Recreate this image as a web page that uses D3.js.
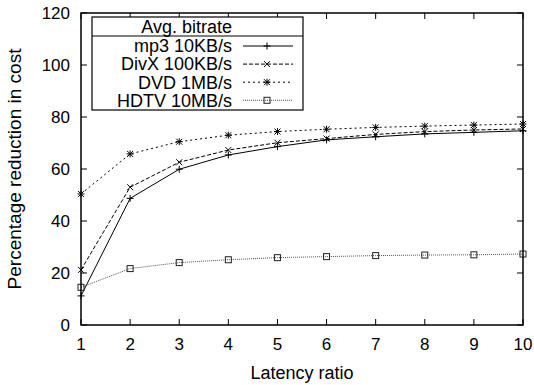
<!DOCTYPE html>
<html>
<head>
<meta charset="utf-8">
<script src="https://cdn.jsdelivr.net/npm/d3@7/dist/d3.min.js"></script>
<style>
  html, body { margin: 0; padding: 0; background: #fff; }
  svg { display: block; font-family: "Liberation Sans", Arial, Helvetica, sans-serif; }
</style>
</head>
<body>
<svg id="chart" width="534" height="385"></svg>
<script>
// Latency ratio on the x axis
const latency = [1, 2, 3, 4, 5, 6, 7, 8, 9, 10];

// Percentage reduction in cost per average bitrate
const mp3 = [11.2, 48.7, 59.9, 65.4, 68.6, 71.2, 72.4, 73.5, 74.1, 74.7];
const divx = [21.2, 53.0, 62.6, 67.3, 70.1, 71.7, 73.3, 74.4, 75.0, 75.4];
const dvd = [50.4, 65.8, 70.5, 73.0, 74.4, 75.3, 76.0, 76.5, 76.9, 77.3];
const hdtv = [14.5, 21.7, 24.0, 25.1, 25.9, 26.3, 26.7, 26.9, 27.0, 27.3];

const seriesNames = ["mp3 10KB/s", "DivX 100KB/s", "DVD 1MB/s", "HDTV 10MB/s"];
const legendTitle = "Avg. bitrate";
const xTicks = [1, 2, 3, 4, 5, 6, 7, 8, 9, 10];
const yTicks = [0, 20, 40, 60, 80, 100, 120];
const xLabel = "Latency ratio";
const yLabel = "Percentage reduction in cost";

const series = [
  { name: seriesNames[0], values: mp3,  dash: null,  color: "#000", marker: "plus" },
  { name: seriesNames[1], values: divx, dash: "4,2", color: "#000", marker: "cross" },
  { name: seriesNames[2], values: dvd,  dash: "2,3", color: "#000", marker: "star" },
  { name: seriesNames[3], values: hdtv, dash: "1,1", color: "#555", marker: "square" }
];

const svg = d3.select("#chart");
const m = { left: 81, right: 11, top: 13, bottom: 60 };
const W = 534, H = 385;

const x = d3.scaleLinear().domain([1, 10]).range([m.left, W - m.right]);
const y = d3.scaleLinear().domain([0, 120]).range([H - m.bottom, m.top]);

const tickLen = 6;

// tick marks on all four sides, pointing inward
const ax = svg.append("g").attr("stroke", "#000").attr("stroke-width", 1);
xTicks.forEach(t => {
  ax.append("line").attr("x1", x(t)).attr("x2", x(t)).attr("y1", y(0)).attr("y2", y(0) - tickLen);
  ax.append("line").attr("x1", x(t)).attr("x2", x(t)).attr("y1", y(120)).attr("y2", y(120) + tickLen);
});
yTicks.forEach(t => {
  ax.append("line").attr("x1", x(1)).attr("x2", x(1) + tickLen).attr("y1", y(t)).attr("y2", y(t));
  ax.append("line").attr("x1", x(10)).attr("x2", x(10) - tickLen).attr("y1", y(t)).attr("y2", y(t));
});

// tick labels
svg.append("g").selectAll("text").data(xTicks).join("text")
  .attr("x", d => x(d)).attr("y", y(0) + 25)
  .attr("text-anchor", "middle").attr("font-size", 17).text(d => d);
svg.append("g").selectAll("text").data(yTicks).join("text")
  .attr("x", m.left - 11).attr("y", d => y(d) + 6)
  .attr("text-anchor", "end").attr("font-size", 17).text(d => d);

// axis titles
svg.append("text").attr("x", (x(1) + x(10)) / 2).attr("y", 379)
  .attr("text-anchor", "middle").attr("font-size", 18).text(xLabel);
svg.append("text").attr("transform", `translate(21,${(y(0) + y(120)) / 2}) rotate(-90)`)
  .attr("text-anchor", "middle").attr("font-size", 19).text(yLabel);

// marker drawing
function drawMarker(g, cx, cy, type, color) {
  const s = 3.5;
  const mk = g.append("g").attr("stroke", color).attr("stroke-width", 1).attr("fill", "none");
  if (type === "plus" || type === "star") {
    mk.append("line").attr("x1", cx - s).attr("x2", cx + s).attr("y1", cy).attr("y2", cy);
    mk.append("line").attr("x1", cx).attr("x2", cx).attr("y1", cy - s).attr("y2", cy + s);
  }
  if (type === "cross" || type === "star") {
    const k = 3;
    mk.append("line").attr("x1", cx - k).attr("x2", cx + k).attr("y1", cy - k).attr("y2", cy + k);
    mk.append("line").attr("x1", cx - k).attr("x2", cx + k).attr("y1", cy + k).attr("y2", cy - k);
  }
  if (type === "square") {
    mk.append("rect").attr("x", cx - 3).attr("y", cy - 3).attr("width", 6).attr("height", 6)
      .attr("stroke", "#222");
  }
}

// series lines and markers
const line = d3.line().x((d, i) => x(latency[i])).y(d => y(d));
const plot = svg.append("g");
series.forEach(s => {
  plot.append("path").datum(s.values)
    .attr("d", line).attr("fill", "none")
    .attr("stroke", s.color).attr("stroke-width", 1)
    .attr("stroke-dasharray", s.dash);
  s.values.forEach((v, i) => drawMarker(plot, x(latency[i]), y(v), s.marker, "#000"));
});

// plot frame
svg.append("rect")
  .attr("x", x(1)).attr("y", y(120))
  .attr("width", x(10) - x(1)).attr("height", y(0) - y(120))
  .attr("fill", "none").attr("stroke", "#000").attr("stroke-width", 1.5);

// legend
const lg = svg.append("g");
const lx0 = 92, lx1 = 303, ly0 = 17, lyHead = 36, ly1 = 110;
lg.append("rect").attr("x", lx0).attr("y", ly0).attr("width", lx1 - lx0).attr("height", ly1 - ly0)
  .attr("fill", "#fff").attr("stroke", "#000").attr("stroke-width", 1.2);
lg.append("line").attr("x1", lx0).attr("x2", lx1).attr("y1", lyHead).attr("y2", lyHead)
  .attr("stroke", "#000").attr("stroke-width", 1.2);
lg.append("text").attr("x", 232).attr("y", 33).attr("text-anchor", "end")
  .attr("font-size", 18).text(legendTitle);
series.forEach((s, i) => {
  const cy = 46 + i * 18.1;
  lg.append("text").attr("x", 232).attr("y", cy + 6.3).attr("text-anchor", "end")
    .attr("font-size", 18).text(s.name);
  lg.append("line").attr("x1", 243).attr("x2", 293).attr("y1", cy).attr("y2", cy)
    .attr("stroke", s.color).attr("stroke-width", 1).attr("stroke-dasharray", s.dash);
  drawMarker(lg, 267, cy, s.marker, "#000");
});
</script>
</body>
</html>
